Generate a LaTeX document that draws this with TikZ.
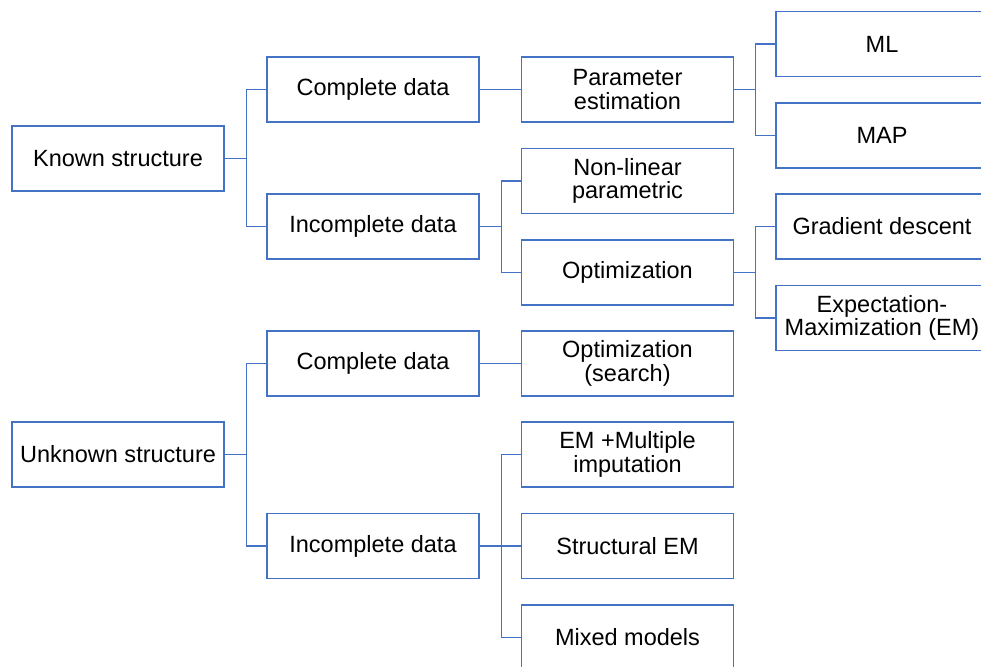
\documentclass[tikz,border=0pt]{standalone}
\usepackage{fontspec}
\setmainfont{Liberation Sans}
\definecolor{boxblue}{HTML}{4472C4}
\begin{document}
\begin{tikzpicture}[x=1pt,y=-1pt,
  box/.style={draw=boxblue, line width=1.3pt, fill=white,
    minimum width=212pt, minimum height=65pt, inner sep=0pt,
    align=center, font=\fontsize{23.5}{23.5}\selectfont},
  link/.style={draw=boxblue, line width=1.3pt}]
\fill[white] (0,0) rectangle (981,666);
\useasboundingbox (0,0) rectangle (981,666);

% level 1
\node[box] (ks) at (118,158.5) {Known structure};
\node[box] (us) at (118,454.5) {Unknown structure};

% level 2
\node[box] (cd1) at (373,89.5)  {Complete data};
\node[box] (id1) at (373,226.5) {Incomplete data};
\node[box] (cd2) at (373,363.5) {Complete data};
\node[box] (id2) at (373,546)   {Incomplete data};

% level 3
\node[box] (pe)  at (627.5,89.5)  {Parameter\\estimation};
\node[box] (nl)  at (627.5,181)   {Non-linear\\parametric};
\node[box] (opt) at (627.5,272.5) {Optimization};
\node[box] (os)  at (627.5,363.5) {Optimization\\(search)};
\node[box] (emm) at (627.5,454.5) {EM +Multiple\\imputation};
\node[box] (sem) at (627.5,546)   {Structural EM};
\node[box] (mm)  at (627.5,637.5) {Mixed models};

% level 4
\node[box] (ml)  at (882,44)    {ML};
\node[box] (map) at (882,135.5) {MAP};
\node[box] (gd)  at (882,226.5) {Gradient descent};
\node[box] (em)  at (882,318)   {Expectation-\\Maximization (EM)};

% elbow connectors
\foreach \p/\c in {ks/cd1, ks/id1, us/cd2, us/id2,
                   cd1/pe, id1/nl, id1/opt, cd2/os,
                   id2/emm, id2/sem, id2/mm,
                   pe/ml, pe/map, opt/gd, opt/em}
  \draw[link] (\p.east) -- ++(21.5,0) |- (\c.west);
\end{tikzpicture}
\end{document}
